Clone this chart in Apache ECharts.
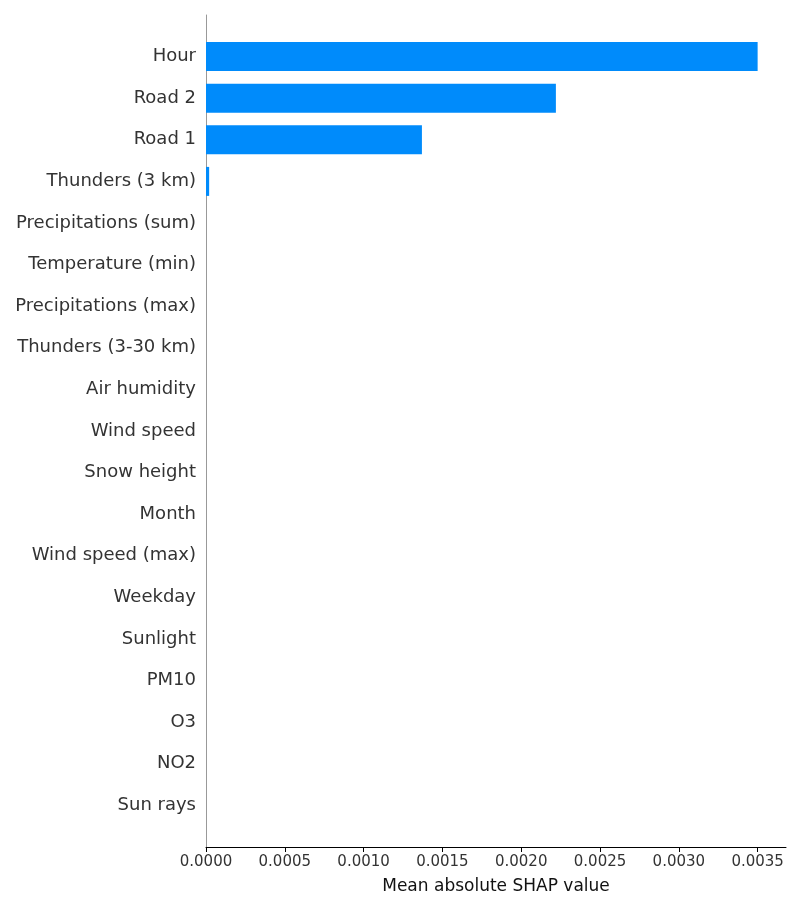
<!DOCTYPE html>
<html>
<head>
<meta charset="utf-8">
<title>Mean absolute SHAP value</title>
<script src="https://cdn.jsdelivr.net/npm/echarts@6/dist/echarts.min.js"></script>
<style>
  html, body { margin: 0; padding: 0; background: #fff; }
  #main { width: 800px; height: 910px; }
</style>
</head>
<body>
<div id="main"></div>
<script type="text/javascript">
// features, top to bottom ('' pads half a row at each end)
var features = ['', 'Hour', 'Road 2', 'Road 1', 'Thunders (3 km)', 'Precipitations (sum)',
  'Temperature (min)', 'Precipitations (max)', 'Thunders (3-30 km)', 'Air humidity',
  'Wind speed', 'Snow height', 'Month', 'Wind speed (max)', 'Weekday', 'Sunlight',
  'PM10', 'O3', 'NO2', 'Sun rays', ''];
var shapValues = ['-', 0.0035, 0.00222, 0.00137, 0.00002, 0, 0, 0, 0, 0, 0, 0, 0, 0, 0, 0, 0, 0, 0, 0, '-'];
var xTicks = [0, 0.0005, 0.001, 0.0015, 0.002, 0.0025, 0.003, 0.0035];
var xMax = 0.00368;

var myChart = echarts.init(document.getElementById('main'));
var font = 'DejaVu Sans';
var option = {
  animation: false,
  backgroundColor: '#fff',
  grid: { left: 206, right: 14, top: 15, bottom: 63 },
  xAxis: {
    type: 'value',
    min: 0,
    max: xMax,
    name: 'Mean absolute SHAP value',
    nameLocation: 'middle',
    nameGap: 31,
    nameTextStyle: { color: '#111', fontSize: 17, fontFamily: font },
    axisLine: { show: true, lineStyle: { color: '#000', width: 1 } },
    axisTick: { show: true, length: 5, lineStyle: { color: '#000' }, customValues: xTicks },
    axisLabel: {
      customValues: xTicks,
      color: '#333', fontSize: 15, fontFamily: font, margin: 8,
      formatter: function (v) { return v.toFixed(4); }
    },
    splitLine: { show: false }
  },
  yAxis: {
    type: 'category',
    data: features,
    inverse: true,
    boundaryGap: false,
    axisLine: { show: true, lineStyle: { color: '#999', width: 1 } },
    axisTick: { show: false },
    axisLabel: {
      interval: 0, color: '#333', fontSize: 18, fontFamily: font, margin: 10,
      verticalAlign: 'middle', lineHeight: 18, padding: [8, 0, 0, 0]
    },
    splitLine: { show: false }
  },
  series: [{
    type: 'bar',
    data: shapValues,
    barWidth: 29,
    itemStyle: { color: '#008bfb' }
  }]
};
myChart.setOption(option);
</script>
</body>
</html>
